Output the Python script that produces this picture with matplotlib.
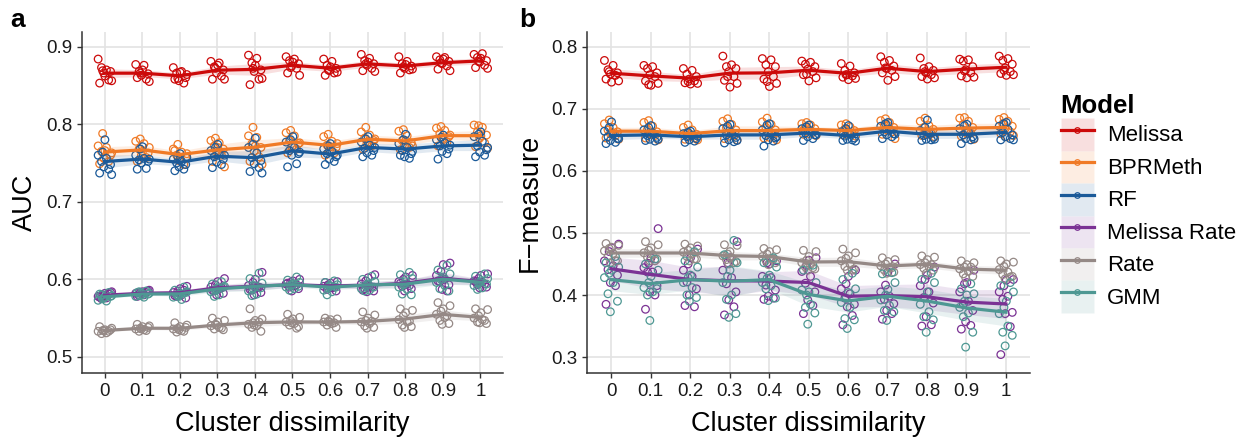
import numpy as np
import matplotlib
matplotlib.use("Agg")
import matplotlib.pyplot as plt
from matplotlib.patches import Patch
from matplotlib.lines import Line2D

plt.rcParams['font.family'] = ['Liberation Sans', 'DejaVu Sans']

dissimilarity = ['0', '0.1', '0.2', '0.3', '0.4', '0.5', '0.6', '0.7', '0.8', '0.9', '1']
models = ['Melissa', 'BPRMeth', 'RF', 'Melissa Rate', 'Rate', 'GMM']
colors = ['#CC0A0A', '#F07A26', '#1B5A99', '#7B3294', '#958986', '#4E9893']

# panel a: AUC, 10 runs per dissimilarity level
auc_melissa = [
    [0.884, 0.870, 0.873, 0.868, 0.866, 0.857, 0.853, 0.856, 0.862, 0.869],
    [0.877, 0.876, 0.868, 0.865, 0.863, 0.858, 0.860, 0.855, 0.870, 0.866],
    [0.873, 0.868, 0.866, 0.860, 0.856, 0.853, 0.858, 0.864, 0.867, 0.859],
    [0.881, 0.879, 0.874, 0.870, 0.866, 0.862, 0.858, 0.858, 0.876, 0.872],
    [0.889, 0.885, 0.879, 0.870, 0.868, 0.858, 0.851, 0.859, 0.876, 0.872],
    [0.887, 0.884, 0.882, 0.878, 0.875, 0.872, 0.866, 0.863, 0.880, 0.873],
    [0.884, 0.881, 0.876, 0.872, 0.869, 0.866, 0.863, 0.867, 0.874, 0.870],
    [0.890, 0.885, 0.882, 0.878, 0.876, 0.872, 0.869, 0.868, 0.880, 0.878],
    [0.887, 0.881, 0.878, 0.875, 0.872, 0.870, 0.866, 0.871, 0.877, 0.874],
    [0.887, 0.886, 0.883, 0.881, 0.878, 0.875, 0.871, 0.869, 0.884, 0.879],
    [0.890, 0.891, 0.886, 0.882, 0.880, 0.876, 0.873, 0.872, 0.885, 0.881],
]
auc_bprmeth = [
    [0.788, 0.772, 0.770, 0.765, 0.760, 0.756, 0.752, 0.749, 0.763, 0.766],
    [0.781, 0.778, 0.775, 0.768, 0.763, 0.760, 0.757, 0.752, 0.770, 0.765],
    [0.774, 0.768, 0.764, 0.760, 0.757, 0.753, 0.748, 0.766, 0.762, 0.756],
    [0.782, 0.779, 0.776, 0.772, 0.768, 0.765, 0.760, 0.752, 0.745, 0.770],
    [0.796, 0.785, 0.783, 0.775, 0.770, 0.765, 0.758, 0.752, 0.748, 0.772],
    [0.792, 0.789, 0.785, 0.779, 0.775, 0.771, 0.768, 0.763, 0.776, 0.772],
    [0.787, 0.784, 0.778, 0.773, 0.770, 0.766, 0.763, 0.760, 0.775, 0.771],
    [0.796, 0.790, 0.786, 0.782, 0.779, 0.775, 0.772, 0.768, 0.781, 0.777],
    [0.793, 0.791, 0.785, 0.779, 0.776, 0.773, 0.770, 0.767, 0.772, 0.779],
    [0.797, 0.795, 0.792, 0.788, 0.784, 0.781, 0.777, 0.772, 0.786, 0.780],
    [0.798, 0.799, 0.796, 0.790, 0.786, 0.782, 0.776, 0.771, 0.769, 0.785],
]
auc_rf = [
    [0.780, 0.764, 0.760, 0.756, 0.752, 0.748, 0.745, 0.742, 0.737, 0.735],
    [0.771, 0.768, 0.760, 0.756, 0.754, 0.752, 0.750, 0.743, 0.742, 0.755],
    [0.762, 0.758, 0.755, 0.752, 0.750, 0.748, 0.745, 0.742, 0.740, 0.757],
    [0.774, 0.770, 0.766, 0.762, 0.758, 0.755, 0.751, 0.748, 0.744, 0.760],
    [0.782, 0.774, 0.770, 0.763, 0.757, 0.753, 0.749, 0.744, 0.739, 0.737],
    [0.784, 0.780, 0.777, 0.770, 0.766, 0.762, 0.760, 0.749, 0.745, 0.764],
    [0.775, 0.772, 0.768, 0.765, 0.762, 0.758, 0.755, 0.752, 0.748, 0.760],
    [0.784, 0.781, 0.777, 0.773, 0.769, 0.766, 0.763, 0.760, 0.758, 0.770],
    [0.787, 0.780, 0.775, 0.770, 0.766, 0.762, 0.758, 0.756, 0.760, 0.765],
    [0.786, 0.783, 0.780, 0.776, 0.772, 0.768, 0.765, 0.762, 0.755, 0.773],
    [0.790, 0.787, 0.784, 0.778, 0.772, 0.767, 0.764, 0.760, 0.758, 0.770],
]
auc_melissa_rate = [
    [0.584, 0.582, 0.580, 0.578, 0.576, 0.575, 0.583, 0.579, 0.581, 0.577],
    [0.586, 0.584, 0.583, 0.582, 0.580, 0.579, 0.585, 0.581, 0.583, 0.578],
    [0.591, 0.588, 0.585, 0.583, 0.580, 0.578, 0.576, 0.582, 0.586, 0.579],
    [0.601, 0.597, 0.593, 0.590, 0.588, 0.585, 0.582, 0.580, 0.589, 0.586],
    [0.609, 0.600, 0.596, 0.592, 0.589, 0.586, 0.583, 0.580, 0.590, 0.587],
    [0.600, 0.598, 0.596, 0.594, 0.592, 0.590, 0.588, 0.585, 0.593, 0.595],
    [0.597, 0.595, 0.593, 0.591, 0.589, 0.587, 0.585, 0.592, 0.590, 0.596],
    [0.606, 0.602, 0.598, 0.594, 0.591, 0.588, 0.585, 0.584, 0.590, 0.586],
    [0.605, 0.603, 0.600, 0.597, 0.594, 0.591, 0.588, 0.585, 0.592, 0.595],
    [0.621, 0.619, 0.610, 0.605, 0.600, 0.597, 0.593, 0.587, 0.585, 0.598],
    [0.607, 0.605, 0.601, 0.598, 0.596, 0.593, 0.590, 0.589, 0.594, 0.597],
]
auc_rate = [
    [0.539, 0.537, 0.535, 0.534, 0.533, 0.531, 0.530, 0.535, 0.534, 0.533],
    [0.542, 0.540, 0.539, 0.537, 0.536, 0.535, 0.533, 0.538, 0.536, 0.534],
    [0.544, 0.541, 0.539, 0.537, 0.536, 0.534, 0.532, 0.538, 0.535, 0.533],
    [0.550, 0.547, 0.545, 0.542, 0.540, 0.538, 0.536, 0.535, 0.541, 0.537],
    [0.562, 0.549, 0.547, 0.544, 0.542, 0.540, 0.538, 0.533, 0.541, 0.545],
    [0.555, 0.551, 0.549, 0.547, 0.545, 0.543, 0.541, 0.539, 0.544, 0.537],
    [0.550, 0.549, 0.548, 0.546, 0.545, 0.543, 0.541, 0.538, 0.545, 0.544],
    [0.558, 0.554, 0.550, 0.547, 0.545, 0.543, 0.540, 0.538, 0.537, 0.546],
    [0.562, 0.560, 0.557, 0.553, 0.548, 0.545, 0.541, 0.539, 0.538, 0.546],
    [0.570, 0.566, 0.562, 0.559, 0.555, 0.551, 0.547, 0.543, 0.542, 0.553],
    [0.562, 0.561, 0.557, 0.553, 0.550, 0.548, 0.545, 0.543, 0.544, 0.547],
]
auc_gmm = [
    [0.583, 0.581, 0.579, 0.577, 0.575, 0.573, 0.572, 0.580, 0.578, 0.576],
    [0.585, 0.583, 0.582, 0.580, 0.579, 0.578, 0.577, 0.584, 0.581, 0.582],
    [0.590, 0.586, 0.584, 0.581, 0.579, 0.577, 0.574, 0.580, 0.583, 0.578],
    [0.597, 0.594, 0.591, 0.589, 0.587, 0.584, 0.580, 0.578, 0.590, 0.586],
    [0.608, 0.601, 0.595, 0.591, 0.588, 0.585, 0.581, 0.579, 0.589, 0.592],
    [0.603, 0.599, 0.596, 0.594, 0.592, 0.590, 0.588, 0.586, 0.591, 0.593],
    [0.598, 0.596, 0.593, 0.591, 0.589, 0.586, 0.584, 0.580, 0.590, 0.592],
    [0.604, 0.600, 0.597, 0.594, 0.591, 0.588, 0.586, 0.585, 0.590, 0.593],
    [0.609, 0.606, 0.601, 0.597, 0.593, 0.590, 0.587, 0.581, 0.580, 0.594],
    [0.618, 0.612, 0.607, 0.603, 0.600, 0.596, 0.592, 0.588, 0.585, 0.601],
    [0.607, 0.604, 0.601, 0.598, 0.595, 0.592, 0.589, 0.587, 0.594, 0.596],
]

# panel b: F-measure
f_melissa = [
    [0.778, 0.770, 0.763, 0.758, 0.756, 0.754, 0.748, 0.745, 0.743, 0.760],
    [0.770, 0.768, 0.765, 0.758, 0.755, 0.752, 0.745, 0.741, 0.738, 0.739],
    [0.765, 0.762, 0.756, 0.752, 0.748, 0.745, 0.742, 0.741, 0.740, 0.744],
    [0.785, 0.771, 0.768, 0.765, 0.760, 0.752, 0.746, 0.741, 0.735, 0.752],
    [0.781, 0.779, 0.771, 0.768, 0.760, 0.752, 0.748, 0.741, 0.736, 0.744],
    [0.777, 0.775, 0.772, 0.768, 0.764, 0.760, 0.755, 0.750, 0.745, 0.756],
    [0.773, 0.769, 0.762, 0.758, 0.755, 0.753, 0.751, 0.749, 0.747, 0.755],
    [0.784, 0.778, 0.775, 0.769, 0.765, 0.762, 0.758, 0.752, 0.746, 0.766],
    [0.782, 0.768, 0.765, 0.762, 0.758, 0.755, 0.752, 0.750, 0.748, 0.760],
    [0.780, 0.779, 0.777, 0.768, 0.763, 0.758, 0.753, 0.751, 0.750, 0.761],
    [0.785, 0.781, 0.778, 0.772, 0.766, 0.760, 0.757, 0.755, 0.754, 0.762],
]
f_bprmeth = [
    [0.682, 0.676, 0.670, 0.666, 0.663, 0.660, 0.657, 0.653, 0.651, 0.662],
    [0.681, 0.678, 0.672, 0.667, 0.663, 0.660, 0.657, 0.653, 0.650, 0.659],
    [0.674, 0.670, 0.666, 0.662, 0.659, 0.656, 0.653, 0.651, 0.650, 0.659],
    [0.684, 0.680, 0.675, 0.670, 0.666, 0.661, 0.656, 0.652, 0.650, 0.656],
    [0.685, 0.679, 0.675, 0.670, 0.666, 0.661, 0.657, 0.653, 0.650, 0.654],
    [0.678, 0.676, 0.674, 0.671, 0.668, 0.665, 0.662, 0.659, 0.657, 0.660],
    [0.676, 0.674, 0.671, 0.668, 0.665, 0.662, 0.660, 0.658, 0.656, 0.660],
    [0.684, 0.681, 0.678, 0.674, 0.670, 0.666, 0.663, 0.659, 0.652, 0.673],
    [0.685, 0.680, 0.673, 0.670, 0.667, 0.664, 0.660, 0.657, 0.655, 0.659],
    [0.686, 0.685, 0.680, 0.675, 0.670, 0.665, 0.661, 0.656, 0.651, 0.661],
    [0.686, 0.683, 0.680, 0.676, 0.672, 0.668, 0.663, 0.660, 0.657, 0.655],
]
f_rf = [
    [0.679, 0.670, 0.664, 0.659, 0.655, 0.652, 0.649, 0.646, 0.644, 0.652],
    [0.673, 0.670, 0.666, 0.661, 0.657, 0.654, 0.651, 0.648, 0.649, 0.651],
    [0.664, 0.662, 0.660, 0.657, 0.655, 0.652, 0.650, 0.648, 0.646, 0.656],
    [0.675, 0.672, 0.668, 0.662, 0.658, 0.654, 0.650, 0.647, 0.645, 0.649],
    [0.676, 0.674, 0.666, 0.661, 0.657, 0.653, 0.650, 0.648, 0.640, 0.655],
    [0.674, 0.671, 0.668, 0.664, 0.661, 0.658, 0.655, 0.652, 0.649, 0.658],
    [0.673, 0.668, 0.663, 0.659, 0.656, 0.653, 0.651, 0.650, 0.649, 0.648],
    [0.678, 0.676, 0.672, 0.667, 0.663, 0.660, 0.658, 0.655, 0.652, 0.659],
    [0.682, 0.670, 0.665, 0.661, 0.657, 0.654, 0.651, 0.650, 0.649, 0.651],
    [0.675, 0.673, 0.668, 0.663, 0.658, 0.655, 0.652, 0.650, 0.644, 0.652],
    [0.678, 0.676, 0.672, 0.667, 0.662, 0.658, 0.655, 0.652, 0.650, 0.650],
]
f_melissa_rate = [
    [0.482, 0.476, 0.470, 0.455, 0.447, 0.441, 0.432, 0.420, 0.415, 0.385],
    [0.507, 0.460, 0.451, 0.444, 0.437, 0.437, 0.415, 0.405, 0.400, 0.377],
    [0.474, 0.460, 0.450, 0.440, 0.430, 0.421, 0.410, 0.400, 0.381, 0.383],
    [0.486, 0.460, 0.452, 0.440, 0.428, 0.418, 0.405, 0.392, 0.381, 0.368],
    [0.455, 0.450, 0.452, 0.430, 0.428, 0.416, 0.408, 0.398, 0.395, 0.393],
    [0.460, 0.456, 0.448, 0.438, 0.430, 0.419, 0.405, 0.392, 0.383, 0.370],
    [0.440, 0.430, 0.418, 0.410, 0.402, 0.395, 0.385, 0.381, 0.367, 0.352],
    [0.450, 0.437, 0.416, 0.405, 0.398, 0.393, 0.386, 0.375, 0.370, 0.361],
    [0.445, 0.432, 0.425, 0.415, 0.405, 0.396, 0.387, 0.365, 0.352, 0.350],
    [0.440, 0.420, 0.418, 0.405, 0.390, 0.385, 0.375, 0.357, 0.351, 0.345],
    [0.425, 0.424, 0.415, 0.405, 0.398, 0.393, 0.372, 0.370, 0.349, 0.304],
]
f_rate = [
    [0.483, 0.480, 0.477, 0.475, 0.471, 0.467, 0.462, 0.455, 0.452, 0.455],
    [0.486, 0.481, 0.476, 0.472, 0.468, 0.465, 0.461, 0.458, 0.455, 0.455],
    [0.482, 0.479, 0.476, 0.472, 0.469, 0.466, 0.462, 0.458, 0.455, 0.458],
    [0.481, 0.480, 0.470, 0.466, 0.463, 0.460, 0.457, 0.454, 0.450, 0.452],
    [0.475, 0.473, 0.470, 0.466, 0.462, 0.459, 0.456, 0.452, 0.449, 0.458],
    [0.472, 0.470, 0.462, 0.456, 0.452, 0.449, 0.445, 0.442, 0.440, 0.444],
    [0.474, 0.468, 0.463, 0.459, 0.455, 0.450, 0.446, 0.442, 0.440, 0.440],
    [0.460, 0.457, 0.454, 0.450, 0.447, 0.444, 0.440, 0.437, 0.435, 0.444],
    [0.463, 0.461, 0.457, 0.452, 0.449, 0.446, 0.443, 0.440, 0.435, 0.449],
    [0.455, 0.452, 0.449, 0.445, 0.442, 0.438, 0.434, 0.430, 0.428, 0.445],
    [0.455, 0.453, 0.450, 0.446, 0.441, 0.437, 0.433, 0.430, 0.426, 0.429],
]
f_gmm = [
    [0.462, 0.452, 0.445, 0.440, 0.435, 0.428, 0.420, 0.402, 0.390, 0.373],
    [0.458, 0.450, 0.440, 0.430, 0.420, 0.412, 0.405, 0.400, 0.410, 0.359],
    [0.470, 0.455, 0.445, 0.432, 0.428, 0.420, 0.412, 0.400, 0.396, 0.390],
    [0.488, 0.465, 0.452, 0.440, 0.430, 0.420, 0.400, 0.393, 0.370, 0.364],
    [0.460, 0.452, 0.445, 0.432, 0.427, 0.420, 0.415, 0.410, 0.395, 0.391],
    [0.448, 0.440, 0.420, 0.405, 0.400, 0.408, 0.385, 0.380, 0.371, 0.353],
    [0.435, 0.425, 0.410, 0.404, 0.395, 0.388, 0.380, 0.362, 0.360, 0.346],
    [0.436, 0.434, 0.420, 0.409, 0.400, 0.392, 0.383, 0.375, 0.373, 0.359],
    [0.435, 0.425, 0.420, 0.405, 0.395, 0.385, 0.373, 0.365, 0.360, 0.340],
    [0.418, 0.410, 0.402, 0.400, 0.390, 0.380, 0.371, 0.365, 0.340, 0.316],
    [0.420, 0.415, 0.405, 0.390, 0.380, 0.370, 0.350, 0.340, 0.335, 0.318],
]

panels = [
    ('a', 'AUC', [auc_melissa, auc_bprmeth, auc_rf, auc_melissa_rate, auc_rate, auc_gmm],
     (0.479, 0.919), [0.5, 0.6, 0.7, 0.8, 0.9]),
    ('b', 'F\u2212measure', [f_melissa, f_bprmeth, f_rf, f_melissa_rate, f_rate, f_gmm],
     (0.274, 0.824), [0.3, 0.4, 0.5, 0.6, 0.7, 0.8]),
]

# fixed horizontal jitter pattern for the points
jitter = np.array([-0.17, 0.05, -0.08, 0.16, -0.02, 0.11, -0.13, 0.19, 0.01, -0.05])

fig = plt.figure(figsize=(12.42, 4.37), dpi=100)
axes = [fig.add_axes([0.066, 0.146, 0.339, 0.781]),
        fig.add_axes([0.473, 0.146, 0.356, 0.781])]

xi = np.arange(len(dissimilarity))
for ax, (letter, ylabel, series, ylim, yticks) in zip(axes, panels):
    for k, (vals, col) in enumerate(zip(series, colors)):
        v = np.array(vals)
        jx = xi[:, None] + np.roll(jitter, k)[None, :]
        ax.scatter(jx.ravel(), v.ravel(), s=30, facecolors='none',
                   edgecolors=col, linewidths=0.9, zorder=2)
    for k, (vals, col) in enumerate(zip(series, colors)):
        v = np.array(vals)
        m = v.mean(axis=1)
        se = v.std(axis=1, ddof=1) / np.sqrt(v.shape[1])
        ax.fill_between(xi, m - 1.96 * se, m + 1.96 * se, color=col,
                        alpha=0.13, lw=0, zorder=3)
        ax.plot(xi, m, color=col, lw=2.3, zorder=4 + k * 0.1)

    ax.set_xlim(-0.6, 10.6)
    ax.set_ylim(*ylim)
    ax.set_xticks(xi)
    ax.set_xticklabels(dissimilarity)
    ax.set_yticks(yticks)
    ax.grid(True, color='#E3E3E3', lw=1.2, zorder=0)
    ax.set_axisbelow(True)
    for s in ['top', 'right']:
        ax.spines[s].set_visible(False)
    for s in ['left', 'bottom']:
        ax.spines[s].set_color('#333333')
        ax.spines[s].set_linewidth(1.1)
    ax.tick_params(labelsize=13.5, length=3.5, width=1, color='#333333',
                   labelcolor='#1a1a1a')
    ax.set_xlabel('Cluster dissimilarity', fontsize=19.5, labelpad=8)
    ax.set_ylabel(ylabel, fontsize=19.5, labelpad=6)

fig.text(0.008, 0.955, 'a', fontsize=19, fontweight='bold', va='center')
fig.text(0.418, 0.955, 'b', fontsize=19, fontweight='bold', va='center')

handles = []
for col in colors:
    handles.append((Patch(facecolor=col, alpha=0.13, edgecolor='white', lw=0.8),
                    Line2D([], [], color=col, lw=2.3, marker='o', markersize=4,
                           markerfacecolor='none', markeredgewidth=0.9)))
leg = fig.legend(handles, models, loc='upper left', bbox_to_anchor=(0.845, 0.81),
                 frameon=False, fontsize=16, title='Model',
                 title_fontproperties={'size': 18.5, 'weight': 'bold'},
                 handlelength=1.49, handleheight=1.87, labelspacing=0,
                 handletextpad=0.6, borderpad=0)
leg._legend_box.align = 'left'

fig.savefig('out.png', dpi=100)
